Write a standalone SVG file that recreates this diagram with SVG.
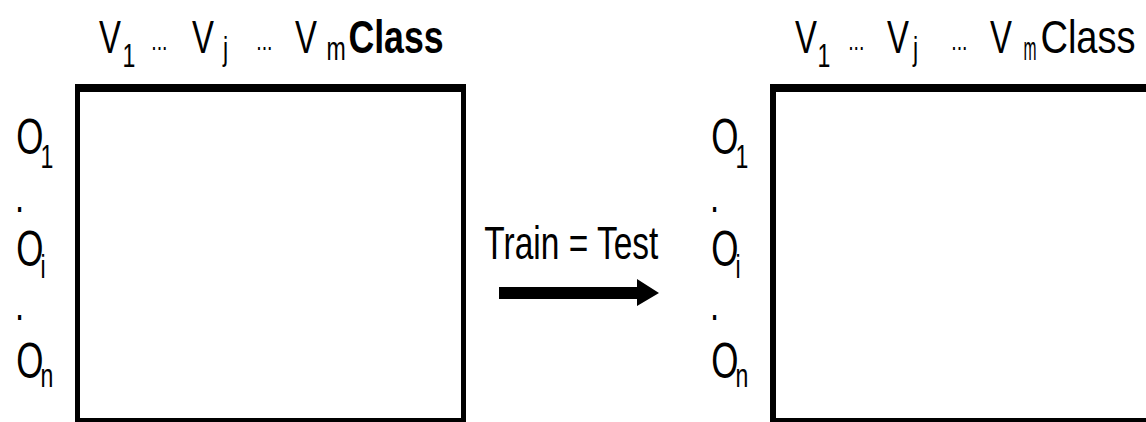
<svg xmlns="http://www.w3.org/2000/svg" width="1146" height="422" viewBox="0 0 1146 422">
  <style>
    .frame { fill: #000; fill-rule: evenodd; }
    .lbl { font-family: "Liberation Sans", Arial, sans-serif; fill: #000; }
    .main { font-size: 47px; }
    .big { font-size: 50px; }
    .sub { font-size: 33px; }
    .dots { font-size: 28px; }
    .bold { font-weight: bold; }
  </style>
  <rect width="1146" height="422" fill="#fff"/>

  <g id="train-table">
    <path class="frame" d="M75,84 H466 V424 H75 Z M80,92 H461 V418 H80 Z"/>
    <g transform="scale(0.7 1)" class="lbl">
      <text class="main" x="141.4" y="53">V</text>
      <text class="sub" x="175" y="67">1</text>
      <text class="dots" x="216" y="50">...</text>
      <text class="main" x="274.3" y="53">V</text>
      <text class="sub" x="318.6" y="60">j</text>
      <text class="dots" x="366" y="50">...</text>
      <text class="main" x="421.4" y="53">V</text>
      <text class="sub" x="466.4" y="60">m</text>
      <text class="main bold" x="497.7" y="53" textLength="136" lengthAdjust="spacingAndGlyphs">Class</text>

      <text class="big" x="23.3" y="154">O</text>
      <text class="sub" x="57.9" y="168">1</text>
      <text class="main" x="21.4" y="212">.</text>
      <text class="big" x="23.3" y="266">O</text>
      <text class="sub" x="57.9" y="278">i</text>
      <text class="main" x="21.4" y="320">.</text>
      <text class="big" x="23.3" y="378">O</text>
      <text class="sub" x="57.9" y="387">n</text>
    </g>
  </g>

  <g id="test-table">
    <path class="frame" d="M770,84 H1150 V424 H770 Z M776,92 H1150 V418 H776 Z"/>
    <g transform="scale(0.7 1)" class="lbl">
      <text class="main" x="1135.7" y="53">V</text>
      <text class="sub" x="1167.9" y="67">1</text>
      <text class="dots" x="1211.7" y="50">...</text>
      <text class="main" x="1267.1" y="53">V</text>
      <text class="sub" x="1304.3" y="60">j</text>
      <text class="dots" x="1358.9" y="50">...</text>
      <text class="main" x="1414.3" y="53">V</text>
      <text class="sub" x="1462.1" y="60" textLength="18.6" lengthAdjust="spacingAndGlyphs">m</text>
      <text class="main" x="1486.3" y="53" textLength="136" lengthAdjust="spacingAndGlyphs">Class</text>

      <text class="big" x="1016.1" y="154">O</text>
      <text class="sub" x="1050.7" y="168">1</text>
      <text class="main" x="1014.3" y="212">.</text>
      <text class="big" x="1016.1" y="266">O</text>
      <text class="sub" x="1050.7" y="278">i</text>
      <text class="main" x="1014.3" y="320">.</text>
      <text class="big" x="1016.1" y="378">O</text>
      <text class="sub" x="1050.7" y="387">n</text>
    </g>
  </g>

  <g id="connectors">
    <polygon points="499,287 637,287 637,279 659,293 637,306 637,299 499,299" fill="#000"/>
    <text class="lbl main" x="484.3" y="259" textLength="174" lengthAdjust="spacingAndGlyphs">Train = Test</text>
  </g>
</svg>
